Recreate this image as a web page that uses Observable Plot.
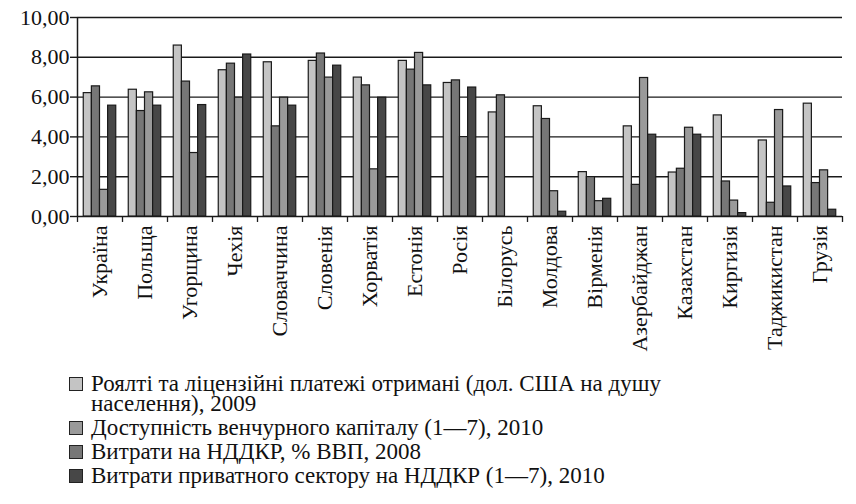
<!DOCTYPE html>
<html><head><meta charset="utf-8">
<script src="https://cdn.jsdelivr.net/npm/d3@7"></script>
<script src="https://cdn.jsdelivr.net/npm/@observablehq/plot@0.6"></script>
<style>
body{margin:0;background:#fff;color:#111;}
#legend{margin-left:69px;margin-top:2px;font-size:23px;line-height:20px;}
.item{display:flex;align-items:flex-start;margin-bottom:4px;}
.sw{width:12px;height:12px;border:1.5px solid #222;margin-right:8px;margin-top:3px;flex:none;}
.lbl{white-space:pre-line;}
</style></head><body>
<div id="chart"></div>
<div id="legend"></div>
<script>
const countries = ["Україна","Польща","Угорщина","Чехія","Словаччина","Словенія","Хорватія","Естонія","Росія","Білорусь","Молдова","Вірменія","Азербайджан","Казахстан","Киргизія","Таджикистан","Грузія"];
const royalties  = [6.20,6.37,8.59,7.35,7.75,7.82,6.98,7.82,6.71,5.23,5.54,2.23,4.53,2.21,5.08,3.82,5.67];
const rdSpending = [6.54,5.30,6.78,7.68,4.53,8.19,6.59,7.38,6.84,6.09,4.90,1.98,1.59,2.40,1.76,0.69,1.68];
const venture    = [1.34,6.24,3.19,5.97,5.97,6.98,2.37,8.22,3.99,null,1.27,0.77,6.96,4.46,0.80,5.35,2.32];
const privateRd  = [5.57,5.57,5.60,8.14,5.57,7.58,5.97,6.59,6.48,null,0.24,0.89,4.11,4.11,0.17,1.51,0.34];
const seriesLabels = [
  "Роялті та ліцензійні платежі отримані (дол. США на душу\nнаселення), 2009",
  "Доступність венчурного капіталу (1—7), 2010",
  "Витрати на НДДКР, % ВВП, 2008",
  "Витрати приватного сектору на НДДКР (1—7), 2010"
];
const seriesColors = ["#c4c4c4","#9a9a9a","#777777","#474747"];
const seriesValues = [royalties, venture, rdSpending, privateRd];
// order of bars inside each group
const barOrder = [0, 2, 1, 3];
const yTicks = [0, 2, 4, 6, 8, 10];

const rows = [];
countries.forEach((c, i) => {
  barOrder.forEach((s, pos) => {
    const v = seriesValues[s][i];
    if (v != null) rows.push({country: c, series: seriesLabels[s], pos, value: v});
  });
});

const xmin = -0.77, xmax = barOrder.length + 0.77;
const ink = "#1a1a1a";
const fmt = d => d.toFixed(2).replace(".", ",");
const font = '"Liberation Serif", "Liberation Sans", Arimo, sans-serif';
document.body.style.fontFamily = font;

const chart = Plot.plot({
  width: 856, height: 372,
  marginLeft: 69, marginRight: 6, marginTop: 17, marginBottom: 156,
  style: {fontFamily: font, fontSize: "22px", color: "#111", background: "#fff"},
  fx: {domain: countries, padding: 0, label: null},
  x: {domain: [xmin, xmax], axis: null},
  y: {domain: [0, 10], axis: null},
  color: {domain: seriesLabels, range: seriesColors},
  marks: [
    Plot.gridY(yTicks, {stroke: ink, strokeOpacity: 1, strokeWidth: 1.4}),
    Plot.rectY(rows, {fx: "country", x1: "pos", x2: d => d.pos + 1, y: "value", fill: "series", stroke: ink, strokeWidth: 1.2}),
    Plot.ruleX([countries[0]], {fx: d => d, x: xmin, y1: 0, y2: 10, stroke: ink, strokeWidth: 1.5}),
    Plot.ruleX(countries, {fx: d => d, x: xmin, y1: 0, y2: -0.3, stroke: ink, strokeWidth: 1.3}),
    Plot.ruleX([countries[countries.length - 1]], {fx: d => d, x: xmax, y1: 0, y2: -0.3, stroke: ink, strokeWidth: 1.3}),
    Plot.axisY(yTicks, {tickSize: 7, tickPadding: 1, tickFormat: fmt, fontSize: 22, label: null, stroke: ink, strokeWidth: 1.4}),
    Plot.axisFx({anchor: "bottom", tickSize: 0, tickRotate: -90, tickPadding: 9, fontSize: 22, label: null})
  ]
});
document.getElementById("chart").appendChild(chart);

const legend = document.getElementById("legend");
seriesLabels.forEach((l, i) => {
  const it = document.createElement("div"); it.className = "item";
  const sw = document.createElement("div"); sw.className = "sw"; sw.style.background = seriesColors[i];
  const tx = document.createElement("div"); tx.className = "lbl"; tx.textContent = l;
  it.appendChild(sw); it.appendChild(tx); legend.appendChild(it);
});
</script>
</body></html>
